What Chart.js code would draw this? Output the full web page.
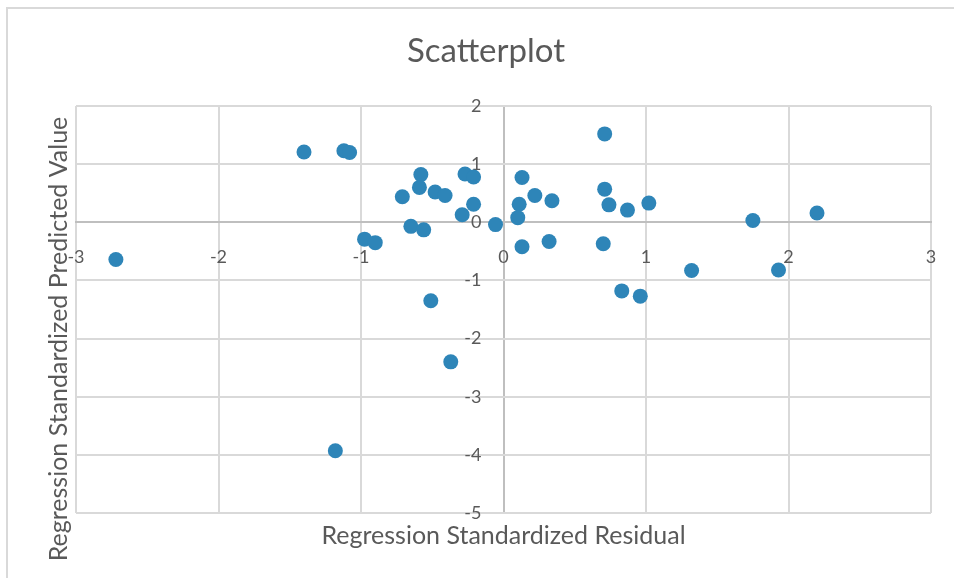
<!DOCTYPE html>
<html>
<head>
<meta charset="utf-8">
<script src="https://cdn.jsdelivr.net/npm/chart.js@4/dist/chart.umd.min.js"></script>
<style>
  html, body { margin: 0; padding: 0; background: #ffffff; }
  #wrap { position: relative; width: 954px; height: 578px; }
</style>
</head>
<body>
<div id="wrap"><canvas id="chart" width="954" height="578"></canvas></div>
<script>
// Regression standardized residuals (x) and predicted values (y)
const residuals = [
  -2.72, -1.40, -1.12, -1.08, -0.975, -0.90, -0.71, -0.58, -0.59, -0.48,
  -0.41, -0.65, -0.56, -0.27, -0.21, -0.21, -0.29, -0.056, 0.71, 0.13,
  0.22, 0.11, 0.34, 0.10, 0.71, 0.74, 0.87, 1.02, 1.75, 2.20,
  0.13, 0.32, 0.70, 1.32, 1.93, 0.83, 0.96, -0.51, -0.37, -1.18
];
const predicted = [
  -0.64, 1.21, 1.23, 1.20, -0.29, -0.35, 0.44, 0.82, 0.60, 0.52,
  0.46, -0.07, -0.13, 0.83, 0.78, 0.31, 0.13, -0.04, 1.52, 0.77,
  0.46, 0.31, 0.37, 0.08, 0.57, 0.30, 0.21, 0.33, 0.03, 0.16,
  -0.42, -0.33, -0.37, -0.83, -0.82, -1.18, -1.27, -1.35, -2.40, -3.93
];

const chartTitle = 'Scatterplot';
const xTitle = 'Regression Standardized Residual';
const yTitle = 'Regression Standardized Predicted Value';
const xRange = [-3, 3];
const yRange = [-5, 2];

const textColor = '#595959';
const gridColor = '#d9d9d9';
const zeroLineColor = '#bfbfbf';
const fontFamily = 'Lato, "Open Sans", sans-serif';

const points = residuals.map((x, i) => ({ x: x, y: predicted[i] }));

// Value-axis labels sit a little to the left of the x = 0 line
const yLabelAnchor = -0.155;

// White background plus the outer frame lines
const framePlugin = {
  id: 'frame',
  beforeDraw(chart) {
    const ctx = chart.ctx;
    ctx.save();
    ctx.fillStyle = '#ffffff';
    ctx.fillRect(0, 0, chart.width, chart.height);
    ctx.strokeStyle = gridColor;
    ctx.lineWidth = 2;
    ctx.beginPath();
    ctx.moveTo(7, chart.height);
    ctx.lineTo(7, 8);
    ctx.lineTo(chart.width, 8);
    ctx.stroke();
    ctx.restore();
  }
};

// Chart title and the two axis titles
const titlesPlugin = {
  id: 'titles',
  afterDraw(chart) {
    const ctx = chart.ctx;
    const area = chart.chartArea;
    ctx.save();
    ctx.fillStyle = textColor;
    ctx.textAlign = 'center';
    ctx.textBaseline = 'middle';
    ctx.font = '33px ' + fontFamily;
    ctx.fillText(chartTitle, 486, 51);
    ctx.font = '25px ' + fontFamily;
    ctx.fillText(xTitle, (area.left + area.right) / 2, 536);
    ctx.translate(59, 339);
    ctx.rotate(-Math.PI / 2);
    ctx.fillText(yTitle, 0, 0);
    ctx.restore();
  }
};

const lineColorAtZero = (ctx) => (ctx.tick && ctx.tick.value === 0 ? zeroLineColor : gridColor);

new Chart(document.getElementById('chart'), {
  type: 'scatter',
  data: {
    datasets: [{
      label: 'Predicted',
      data: points,
      backgroundColor: '#2e85b8',
      borderWidth: 0,
      pointRadius: 7.5,
      pointHoverRadius: 7.5
    }]
  },
  options: {
    responsive: false,
    animation: false,
    layout: { padding: { left: 76, right: 23, top: 106, bottom: 65 } },
    plugins: {
      legend: { display: false },
      title: { display: false },
      tooltip: { enabled: false }
    },
    scales: {
      x: {
        type: 'linear',
        position: { y: 0 },
        min: xRange[0],
        max: xRange[1],
        ticks: {
          stepSize: 1,
          color: textColor,
          font: { family: fontFamily, size: 18 },
          padding: 0,
          maxRotation: 0
        },
        grid: {
          color: lineColorAtZero,
          lineWidth: 2,
          drawTicks: true,
          tickLength: 24,
          tickColor: 'rgba(0,0,0,0)'
        },
        border: { color: zeroLineColor, width: 2 }
      },
      y: {
        type: 'linear',
        position: { x: yLabelAnchor },
        min: yRange[0],
        max: yRange[1],
        ticks: {
          stepSize: 1,
          color: textColor,
          font: { family: fontFamily, size: 18 },
          padding: 0
        },
        grid: { color: lineColorAtZero, lineWidth: 2, drawTicks: false },
        border: { display: false }
      }
    }
  },
  plugins: [framePlugin, titlesPlugin]
});
</script>
</body>
</html>
